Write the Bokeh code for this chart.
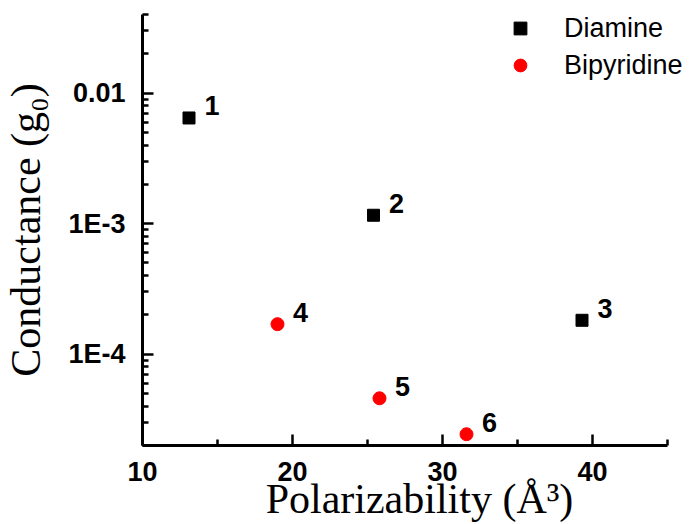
from bokeh.plotting import figure
from bokeh.models import FixedTicker, Legend, LegendItem, ColumnDataSource
from bokeh.embed import file_html
from bokeh.resources import INLINE
from bokeh.core.properties import value

# Molecular polarizability (Å^3) vs single-molecule conductance (G0)
diamine_polarizability = [13.1, 25.4, 39.3]
diamine_conductance = [6.45e-3, 1.16e-3, 1.82e-4]
diamine_ids = ["1", "2", "3"]

bipyridine_polarizability = [19.0, 25.8, 31.6]
bipyridine_conductance = [1.70e-4, 4.6e-5, 2.44e-5]
bipyridine_ids = ["4", "5", "6"]

x_ticks = [10, 20, 30, 40]
x_minor_ticks = [15, 25, 35, 45]
x_axis_extent = (10, 45)
y_ticks = [1e-4, 1e-3, 1e-2]
y_tick_labels = ["1E-4", "1E-3", "0.01"]
y_minor_ticks = [k * 10.0 ** d for d in (-5, -4, -3, -2) for k in range(2, 10)]

SANS = "Liberation Sans"
SERIF = "Liberation Serif"

# the frame runs to the right edge so the legend text is not clipped;
# the x axis line itself stops at 45 via its bounds
p = figure(
    width=696, height=524,
    x_range=(10, 10 + 554 / 15.0), y_range=(2e-5, 0.04),
    y_axis_type="log",
    output_backend="svg", toolbar_location=None,
    min_border_left=142, min_border_right=0,
    min_border_top=14, min_border_bottom=79,
)
p.outline_line_color = None
p.grid.visible = False
p.background_fill_color = "white"
p.border_fill_color = "white"

diamine = ColumnDataSource(dict(x=diamine_polarizability, y=diamine_conductance, t=diamine_ids))
bipyridine = ColumnDataSource(dict(x=bipyridine_polarizability, y=bipyridine_conductance, t=bipyridine_ids))

r_dia = p.scatter("x", "y", source=diamine, marker="square", size=12,
                  fill_color="black", line_color="black")
r_bip = p.scatter("x", "y", source=bipyridine, marker="circle", size=13,
                  fill_color="#ff0000", line_color="#ff0000")

for src in (diamine, bipyridine):
    p.text("x", "y", text="t", source=src, x_offset=23, y_offset=-12,
           text_align="center", text_baseline="middle",
           text_font=value(SANS), text_font_style="bold",
           text_font_size="27px", text_color="black")

# axes
xa = p.xaxis[0]
xa.ticker = FixedTicker(ticks=x_ticks, minor_ticks=x_minor_ticks)
xa.bounds = x_axis_extent
xa.axis_label = "Polarizability (Å³)"
ya = p.yaxis[0]
ya.ticker = FixedTicker(ticks=y_ticks, minor_ticks=y_minor_ticks)
ya.major_label_overrides = dict(zip(y_ticks, y_tick_labels))
ya.axis_label = "Conductance (g₀)"

for ax in (xa, ya):
    ax.axis_line_width = 3
    ax.axis_line_color = "black"
    ax.major_tick_in = 11
    ax.major_tick_out = 0
    ax.minor_tick_in = 6
    ax.minor_tick_out = 0
    ax.major_tick_line_width = 2.5
    ax.minor_tick_line_width = 2.5
    ax.major_tick_line_color = "black"
    ax.minor_tick_line_color = "black"
    ax.major_label_text_font = SANS
    ax.major_label_text_font_style = "bold"
    ax.major_label_text_font_size = "27px"
    ax.major_label_text_color = "black"
    ax.axis_label_text_font = SERIF
    ax.axis_label_text_font_style = "normal"
    ax.axis_label_text_font_size = "42px"
    ax.axis_label_text_color = "black"

xa.major_label_standoff = 16
xa.axis_label_standoff = -8
ya.major_label_standoff = 17
ya.axis_label_standoff = 16

legend = Legend(
    items=[LegendItem(label="Diamine", renderers=[r_dia]),
           LegendItem(label="Bipyridine", renderers=[r_bip])],
    location=(362, 364),
    padding=0, margin=0, spacing=5,
    glyph_width=32, glyph_height=32, label_height=32,
    label_standoff=28,
    label_text_font=SANS, label_text_font_size="27px", label_text_color="black",
    border_line_color=None, background_fill_alpha=0,
)
p.add_layout(legend)

open("out.html", "w").write(file_html(p, INLINE))
